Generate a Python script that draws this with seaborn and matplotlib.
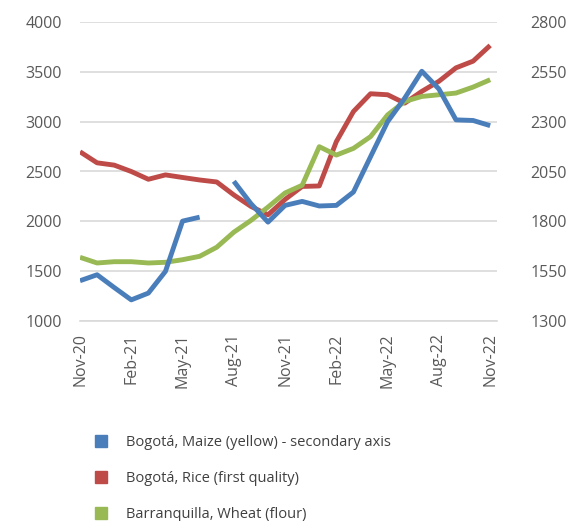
import numpy as np
import pandas as pd
import matplotlib
matplotlib.use("Agg")
import matplotlib.pyplot as plt
from matplotlib.patches import Patch
import seaborn as sns

months = ["Nov-20", "Dec-20", "Jan-21", "Feb-21", "Mar-21", "Apr-21", "May-21", "Jun-21",
          "Jul-21", "Aug-21", "Sep-21", "Oct-21", "Nov-21", "Dec-21", "Jan-22", "Feb-22",
          "Mar-22", "Apr-22", "May-22", "Jun-22", "Jul-22", "Aug-22", "Sep-22", "Oct-22", "Nov-22"]

maize = [1502, 1532, 1468, 1406, 1440, 1549, 1801, 1821, np.nan, 2001, 1889, 1796, 1880,
         1900, 1877, 1880, 1947, 2124, 2300, 2418, 2553, 2464, 2309, 2306, 2280]
rice = [2698, 2587, 2564, 2500, 2422, 2466, 2440, 2415, 2395, 2265, 2150, 2065, 2220,
        2350, 2355, 2800, 3102, 3280, 3270, 3186, 3304, 3405, 3540, 3607, 3765]
wheat = [1639, 1582, 1595, 1595, 1582, 1589, 1615, 1649, 1740, 1891, 2009, 2143, 2285,
         2362, 2749, 2665, 2732, 2850, 3068, 3203, 3253, 3270, 3287, 3347, 3421]

tick_labels = ["Nov-20", "Feb-21", "May-21", "Aug-21", "Nov-21", "Feb-22", "May-22", "Aug-22", "Nov-22"]
left_ticks = [1000, 1500, 2000, 2500, 3000, 3500, 4000]
right_ticks = [1300, 1550, 1800, 2050, 2300, 2550, 2800]

labels = ["Bogotá, Maize (yellow) - secondary axis",
          "Bogotá, Rice (first quality)",
          "Barranquilla, Wheat (flour)"]
colors = ["#4A7EBB", "#BE4B48", "#98B954"]

sns.set_style("white")
plt.rcParams["font.family"] = ["Open Sans", "DejaVu Sans"]
text_color = "#595959"

fig = plt.figure(figsize=(5.67, 5.21), dpi=100)
ax = fig.add_axes([80 / 567, 1 - 321 / 521, (497 - 80) / 567, (321 - 22) / 521])
ax2 = ax.twinx()

x = np.arange(len(months))
df_left = pd.DataFrame({"x": np.concatenate([x, x]),
                        "value": rice + wheat,
                        "series": [labels[1]] * len(x) + [labels[2]] * len(x)})
seg = np.where(x < 8, 0, 1)
df_maize = pd.DataFrame({"x": x, "value": maize, "seg": seg}).dropna()

sns.lineplot(data=df_left, x="x", y="value", hue="series",
             palette={labels[1]: colors[1], labels[2]: colors[2]},
             linewidth=3.5, ax=ax, legend=False, solid_capstyle="butt")
sns.lineplot(data=df_maize, x="x", y="value", units="seg", estimator=None,
             color=colors[0], linewidth=3.5, ax=ax2, legend=False, solid_capstyle="butt")

ax.set_xlim(0, 24.4)
ax.set_ylim(1000, 4000)
ax2.set_ylim(1300, 2800)
ax.set_yticks(left_ticks)
ax2.set_yticks(right_ticks)
ax.set_xticks(x[::3])
ax.set_xticklabels(tick_labels, rotation=90)
ax.grid(axis="y", color="#D9D9D9", linewidth=1.2)
ax.set_axisbelow(True)
ax.set_xlabel("")
ax.set_ylabel("")
ax2.set_ylabel("")

for a in (ax, ax2):
    for s in a.spines.values():
        s.set_visible(False)
ax.spines["bottom"].set_visible(True)
ax.spines["bottom"].set_color("#D9D9D9")
ax.spines["bottom"].set_linewidth(1.2)

ax.tick_params(axis="x", colors="#D9D9D9", length=5, width=1.2, pad=4,
               labelcolor=text_color, labelsize=11.5)
ax.tick_params(axis="y", length=0, pad=13, labelcolor=text_color, labelsize=11.5)
ax2.tick_params(axis="y", length=0, pad=24, labelcolor=text_color, labelsize=11.5)

handles = [Patch(facecolor=c, edgecolor=c) for c in colors]
fig.legend(handles, labels, loc="upper left", bbox_to_anchor=(89 / 567, 1 - 429 / 521),
           frameon=False, fontsize=10.5, labelcolor="#404040", handlelength=0.85,
           handleheight=0.85, handletextpad=1.3, labelspacing=1.45, borderaxespad=0)

fig.savefig("out.png", dpi=100)
